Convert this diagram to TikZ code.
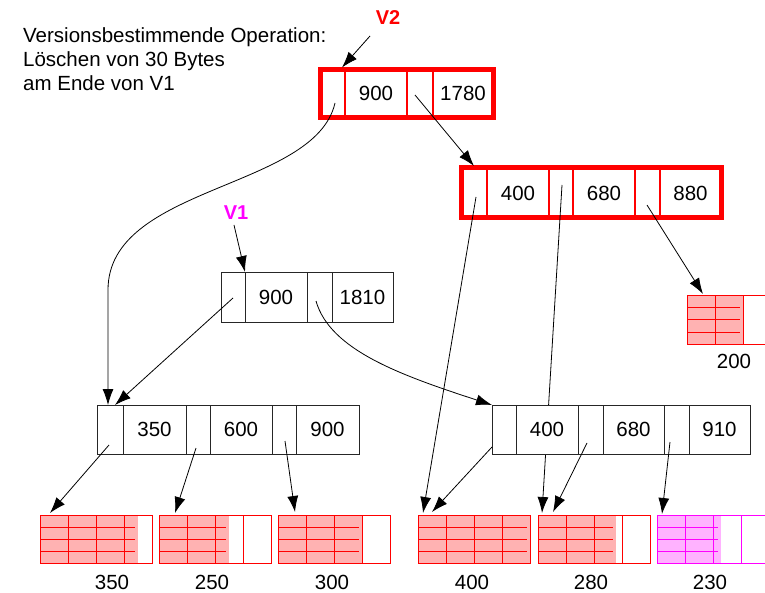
\documentclass[tikz,border=0pt]{standalone}
\usepackage{fontspec}
\setmainfont{Liberation Sans}
\usetikzlibrary{arrows.meta}
\definecolor{pureRed}{RGB}{255,0,0}
\definecolor{pureMag}{RGB}{255,0,255}
\newcommand{\leafbox}[5]{%
  \fill[#5!30] (#2,#3) rectangle ++(#4,48);
  \foreach \r in {12,24,36} \draw[#5, line width=1pt] (#2,#3+\r) -- ++(#4-3,0);
  \foreach \c in {28,56,84} \draw[#5, line width=1pt] (#2+\c,#3) -- ++(0,48);
  \node[draw=#5, line width=1pt, minimum width=112pt, minimum height=48pt, anchor=north west, inner sep=0pt, outer sep=0pt] (#1) at (#2,#3) {};
}
\tikzset{
 cell/.style={draw=black!85, line width=0.9pt, fill=white, anchor=north west, inner sep=0pt, outer sep=0pt, minimum height=49pt, font=\fontsize{20.5}{24}\selectfont},
 rcell/.style={cell, draw=pureRed, line width=1.2pt},
 ptr/.style={-{Latex[length=16pt,width=11pt]}, line width=0.8pt},
 redframe/.style={draw=pureRed, line width=5pt},
 txt/.style={font=\fontsize{20.5}{24}\selectfont, inner sep=0pt},
 vlab/.style={font=\fontsize{20}{24}\selectfont\bfseries, inner sep=0pt},
}
\begin{document}
\begin{tikzpicture}[x=1pt, y=-1pt]
\useasboundingbox (0,0) rectangle (765,593);
\clip (0,0) rectangle (765,593);
% description
\node[txt, anchor=base west] (t1) at (23,43) {Versionsbestimmende Operation:};
\node[txt, anchor=base west] (t2) at (23,67) {Löschen von 30 Bytes};
\node[txt, anchor=base west] (t3) at (23,91) {am Ende von V1};
\node[vlab, text=pureRed] (lv2) at (388,17.5) {V2};
\node[vlab, text=pureMag] (lv1) at (236,213) {V1};
% V2 root (red)
\node[rcell, minimum width=24.5pt, minimum height=48.5pt] (v2p0) at (320.5,69.5) {};
\node[rcell, minimum width=62pt, minimum height=48.5pt] (v2k0) at (345,69.5) {900};
\node[rcell, minimum width=26pt, minimum height=48.5pt] (v2p1) at (407,69.5) {};
\node[rcell, minimum width=60pt, minimum height=48.5pt] (v2k1) at (433,69.5) {1780};
\draw[redframe] (v2p0.north west) rectangle (v2k1.south east);
% red inner node
\node[rcell, minimum width=26pt, minimum height=50pt] (r2p0) at (461,168) {};
\node[rcell, minimum width=62pt, minimum height=50pt] (r2k0) at (487,168) {400};
\node[rcell, minimum width=24pt, minimum height=50pt] (r2p1) at (549,168) {};
\node[rcell, minimum width=62pt, minimum height=50pt] (r2k1) at (573,168) {680};
\node[rcell, minimum width=25pt, minimum height=50pt] (r2p2) at (635,168) {};
\node[rcell, minimum width=61pt, minimum height=50pt] (r2k2) at (660,168) {880};
\draw[redframe] (r2p0.north west) rectangle (r2k2.south east);
% V1 root
\node[cell, minimum width=24pt, minimum height=50pt] (v1p0) at (221,272) {};
\node[cell, minimum width=62pt, minimum height=50pt] (v1k0) at (245,272) {900};
\node[cell, minimum width=25pt, minimum height=50pt] (v1p1) at (307,272) {};
\node[cell, minimum width=61pt, minimum height=50pt] (v1k1) at (332,272) {1810};
% left inner node
\node[cell, minimum width=26pt] (lp0) at (97,405) {};
\node[cell, minimum width=63pt] (lk0) at (123,405) {350};
\node[cell, minimum width=24pt] (lp1) at (186,405) {};
\node[cell, minimum width=62pt] (lk1) at (210,405) {600};
\node[cell, minimum width=24pt] (lp2) at (272,405) {};
\node[cell, minimum width=63pt] (lk2) at (296,405) {900};
% leaves
\leafbox{l350}{40}{515}{98}{pureRed}
\leafbox{l250}{159}{515}{70}{pureRed}
\leafbox{l300}{278}{515}{84}{pureRed}
\leafbox{l400}{418}{515}{112}{pureRed}
\leafbox{l280}{538}{515}{78}{pureRed}
\leafbox{l230}{657}{515}{64}{pureMag}
\leafbox{l200}{687}{296}{56}{pureRed}
\node[txt] (n350) at (112,582) {350};
\node[txt] (n250) at (212,582) {250};
\node[txt] (n300) at (332,582) {300};
\node[txt] (n400) at (472,582) {400};
\node[txt] (n280) at (591,582) {280};
\node[txt] (n230) at (710,582) {230};
\node[txt] (n200) at (734,361) {200};
% pointer passing behind right inner node
\coordinate (sr2p1) at (562,185);
\draw[ptr] (sr2p1) -- ([xshift=4pt,yshift=2pt]l280.north west);
% right inner node
\node[cell, minimum width=24pt] (rp0) at (492,405) {};
\node[cell, minimum width=62pt] (rk0) at (516,405) {400};
\node[cell, minimum width=25pt] (rp1) at (578,405) {};
\node[cell, minimum width=61pt] (rk1) at (603,405) {680};
\node[cell, minimum width=25pt] (rp2) at (664,405) {};
\node[cell, minimum width=61pt] (rk2) at (689,405) {910};
% start points of pointers
\coordinate (slv2) at (370,36);
\coordinate (slv1) at (234,225);
\coordinate (sv2p0) at (335,103);
\coordinate (sv2p1) at (415,95);
\coordinate (sr2p0) at (476,197);
\coordinate (sr2p2) at (647,205);
\coordinate (sv1p0) at (233,298);
\coordinate (sv1p1) at (316,301);
\coordinate (slp0) at (109,445);
\coordinate (slp1) at (196,448);
\coordinate (slp2) at (285,441);
\coordinate (srp0) at (492,447);
\coordinate (srp1) at (587,443);
\coordinate (srp2) at (670,442);
% pointers
\draw[ptr] (slv2) -- ([xshift=-3pt,yshift=2pt]v2p0.north east);
\draw[ptr] (sv2p0) .. controls (315,190) and (108,185) .. (108,290) -- ([xshift=-2pt]lp0.north);
\draw[ptr] (sv2p1) -- ([yshift=2pt]r2p0.north);
\draw[ptr] (sr2p0) -- ([xshift=5pt,yshift=2pt]l400.north west);
\draw[ptr] (sr2p2) -- ([xshift=16pt,yshift=2pt]l200.north west);
\draw[ptr] (slv1) -- (v1p0.north east);
\draw[ptr] (sv1p0) -- ([xshift=5pt]lp0.north);
\draw[ptr] (sv1p1) .. controls (330,350) and (400,375) .. (rp0.north west);
\draw[ptr] (slp0) -- ([xshift=10pt,yshift=2pt]l350.north west);
\draw[ptr] (slp1) -- ([xshift=16pt,yshift=2pt]l250.north west);
\draw[ptr] (slp2) -- ([xshift=17pt,yshift=3pt]l300.north west);
\draw[ptr] (srp0) -- ([xshift=14pt,yshift=3pt]l400.north west);
\draw[ptr] (srp1) -- ([xshift=15pt,yshift=3pt]l280.north west);
\draw[ptr] (srp2) -- ([xshift=5pt,yshift=1pt]l230.north west);
\end{tikzpicture}
\end{document}
